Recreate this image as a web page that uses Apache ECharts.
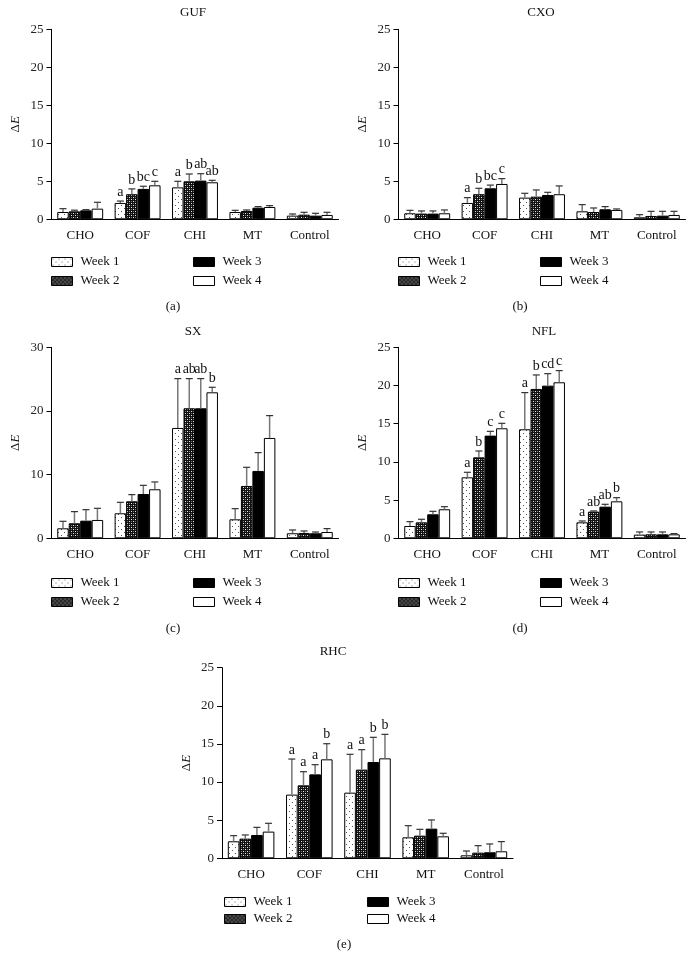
<!DOCTYPE html>
<html><head><meta charset="utf-8">
<script src="https://cdn.jsdelivr.net/npm/echarts@6/dist/echarts.min.js"></script>
<style>html,body{margin:0;padding:0;background:#fff}#c{width:694px;height:971px}</style>
</head><body><div id="c"></div>
<script>
const categories = ['CHO','COF','CHI','MT','Control'];
const weeks = ['Week 1','Week 2','Week 3','Week 4'];
const panelTitles = ['GUF','CXO','SX','NFL','RHC'];
const panelTags = ['(a)','(b)','(c)','(d)','(e)'];

// means [week][category]
const gufMean = [[0.96,2.15,4.2,0.96,0.48],[1.05,3.3,5.0,1.1,0.61],[1.18,4.0,5.09,1.53,0.48],[1.4,4.47,4.87,1.62,0.57]];
const gufSd   = [[0.44,0.25,0.8,0.22,0.22],[0.15,0.7,0.96,0.13,0.31],[0.09,0.35,0.91,0.14,0.31],[0.84,0.53,0.26,0.18,0.35]];
const gufLet  = [['','a','a','',''],['','b','b','',''],['','bc','ab','',''],['','c','ab','','']];

const cxoMean = [[0.79,2.15,2.85,1.05,0.26],[0.75,3.3,2.98,0.96,0.44],[0.75,4.08,3.2,1.32,0.48],[0.79,4.65,3.3,1.23,0.57]];
const cxoSd   = [[0.39,0.7,0.57,0.88,0.35],[0.35,0.78,0.88,0.53,0.61],[0.35,0.42,0.35,0.35,0.57],[0.44,0.7,1.09,0.13,0.48]];
const cxoLet  = [['','a','','',''],['','b','','',''],['','bc','','',''],['','c','','','']];

const sxMean = [[1.57,3.93,17.33,2.98,0.79],[2.36,5.81,20.42,8.22,0.84],[2.77,6.96,20.42,10.58,0.79],[2.88,7.7,22.93,15.76,0.99]];
const sxSd   = [[1.1,1.72,7.75,1.68,0.52],[1.83,1.05,4.66,2.93,0.31],[1.73,1.36,4.66,2.88,0.2],[1.83,1.15,0.79,3.51,0.53]];
const sxLet  = [['','','a','',''],['','','ab','',''],['','','ab','',''],['','','b','','']];

const nflMean = [[1.61,7.98,14.27,2.09,0.48],[2.09,10.6,19.55,3.49,0.52],[3.14,13.44,19.98,4.14,0.52],[3.8,14.4,20.42,4.84,0.52]];
const nflSd   = [[0.57,0.66,4.8,0.18,0.35],[0.4,0.83,1.83,0.09,0.31],[0.39,0.56,1.57,0.31,0.31],[0.34,0.65,1.53,0.48,0.09]];
const nflLet  = [['','a','a','a',''],['','b','b','ab',''],['','c','cd','ab',''],['','c','c','b','']];

const rhcMean = [[2.23,8.35,8.61,2.75,0.39],[2.58,9.57,11.63,2.97,0.74],[3.06,11.01,12.63,3.89,0.79],[3.5,12.98,13.11,2.88,0.92]];
const rhcSd   = [[0.74,4.67,5.03,1.53,0.57],[0.48,1.79,2.62,0.83,0.92],[1.0,1.27,3.24,1.14,1.09],[1.09,2.05,3.15,0.4,1.27]];
const rhcLet  = [['','a','a','',''],['','a','a','',''],['','a','b','',''],['','b','b','','']];

const yMax = [25,25,30,25,25];
const yStep = [5,5,10,5,5];

const panels = [
  {mean:gufMean, sd:gufSd, let:gufLet},
  {mean:cxoMean, sd:cxoSd, let:cxoLet},
  {mean:sxMean, sd:sxSd, let:sxLet},
  {mean:nflMean, sd:nflSd, let:nflLet},
  {mean:rhcMean, sd:rhcSd, let:rhcLet}
];

// layout (pixels)
const grids = [
  {left:51.5, top:29.3, width:287, height:190},
  {left:398.5, top:29.3, width:287, height:190},
  {left:51.5, top:347.3, width:287, height:191},
  {left:398.5, top:347.3, width:287, height:191},
  {left:222, top:667.7, width:291, height:190.6}
];
const titlePos = [[193,13],[541,13],[193,332],[544,332],[333,652]];
const tagPos = [[173,307],[520,307],[173,629],[520,629],[344,945]];
const legendPos = [
  {c1:51, c2:193, r1:262, r2:281},
  {c1:398, c2:540, r1:262, r2:281},
  {c1:51, c2:193, r1:583, r2:602},
  {c1:398, c2:540, r1:583, r2:602},
  {c1:224, c2:367, r1:902, r2:919}
];

const FONT = 'Liberation Serif';
const GAP = 0.2;

function makePattern(kind){
  const c = document.createElement('canvas');
  const ctx = c.getContext('2d');
  if(kind===0){
    c.width=6;c.height=6;
    ctx.fillStyle='#fff';ctx.fillRect(0,0,6,6);
    ctx.fillStyle='#555';
    ctx.fillRect(1,1,1,1);ctx.fillRect(4,4,1,1);
  } else if(kind===1){
    c.width=4;c.height=4;
    ctx.fillStyle='#111';ctx.fillRect(0,0,4,4);
    ctx.fillStyle='#e8e8e8';
    ctx.fillRect(1,1,1,1);ctx.fillRect(3,3,1,1);
    ctx.fillStyle='#777';
    ctx.fillRect(3,1,1,1);ctx.fillRect(1,3,1,1);
  }
  return {image:c, repeat:'repeat'};
}
const fills = [makePattern(0), makePattern(1), '#000', '#fff'];

const option = {
  animation:false,
  backgroundColor:'#fff',
  textStyle:{fontFamily:FONT},
  grid:[], xAxis:[], yAxis:[], series:[], legend:[], graphic:[]
};

panels.forEach((p,pi)=>{
  option.grid.push(Object.assign({containLabel:false}, grids[pi]));
  option.xAxis.push({
    type:'category', gridIndex:pi, data:categories,
    axisLine:{lineStyle:{color:'#000',width:1}},
    axisTick:{alignWithLabel:true,length:5,lineStyle:{color:'#000'}},
    axisLabel:{color:'#111',fontSize:13,fontFamily:FONT,margin:10},
    splitLine:{show:false}
  });
  option.yAxis.push({
    type:'value', gridIndex:pi, min:0, max:yMax[pi], interval:yStep[pi],
    axisLine:{show:true,lineStyle:{color:'#000',width:1}},
    axisTick:{show:true,length:5,lineStyle:{color:'#000'}},
    axisLabel:{color:'#222',fontSize:13,fontFamily:FONT,margin:8},
    splitLine:{show:false},
    name:'{d|Δ}{e|E}', nameLocation:'middle', nameGap:29, nameRotate:90,
    nameTextStyle:{rich:{d:{fontFamily:FONT,fontSize:13,color:'#111'},e:{fontFamily:FONT,fontSize:13,fontStyle:'italic',color:'#111'}}}
  });
  weeks.forEach((w,wi)=>{
    option.series.push({
      type:'bar', name:w, xAxisIndex:pi, yAxisIndex:pi,
      data:p.mean[wi], barGap:'0%', barCategoryGap:(GAP*100)+'%',
      itemStyle:{color:fills[wi], borderColor:'#000', borderWidth:1},
      z:2
    });
  });
  weeks.forEach((w,wi)=>{
    const d = categories.map((c,ci)=>[ci, p.mean[wi][ci], p.mean[wi][ci]+p.sd[wi][ci]]);
    option.series.push({
      type:'custom', name:'err'+pi+'_'+wi, xAxisIndex:pi, yAxisIndex:pi, z:5,
      data:d,
      renderItem:function(params, api){
        const ci = api.value(0);
        const m = api.value(1), top = api.value(2);
        const letter = p.let[wi][ci];
        const band = api.size([1,0])[0];
        const gw = band*(1-GAP);
        const bw = gw/4;
        const cx = api.coord([ci,0])[0] - gw/2 + bw*(wi+0.5);
        const y0 = api.coord([ci,m])[1];
        const y1 = api.coord([ci,top])[1];
        const ch = [
          {type:'line', shape:{x1:cx,y1:y0,x2:cx,y2:y1}, style:{stroke:'#777',lineWidth:1.5}},
          {type:'line', shape:{x1:cx-3.5,y1:y1,x2:cx+3.5,y2:y1}, style:{stroke:'#333',lineWidth:1.2}}
        ];
        if(letter){
          ch.push({type:'text', style:{text:letter, x:cx, y:y1-2, align:'center', verticalAlign:'bottom', fontFamily:FONT, fontSize:14, fill:'#111'}});
        }
        return {type:'group', children:ch};
      }
    });
  });
  option.graphic.push({type:'text', x:titlePos[pi][0], y:titlePos[pi][1], style:{text:panelTitles[pi], x:0, y:0, fontFamily:FONT, fontSize:13, fill:'#111', align:'center', verticalAlign:'middle'}});
  option.graphic.push({type:'text', x:tagPos[pi][0], y:tagPos[pi][1], style:{text:panelTags[pi], x:0, y:0, fontFamily:FONT, fontSize:13, fill:'#111', align:'center', verticalAlign:'middle'}});
  const L = legendPos[pi];
  const cells = [[L.c1,L.r1],[L.c1,L.r2],[L.c2,L.r1],[L.c2,L.r2]];
  weeks.forEach((w,wi)=>{
    option.legend.push({
      data:[{name:w, icon:'rect'}], left:cells[wi][0], top:cells[wi][1]-7, padding:0,
      itemWidth:21, itemHeight:9, selectedMode:false,
      itemStyle:{borderColor:'#000',borderWidth:1},
      textStyle:{fontFamily:FONT, fontSize:13, color:'#111', lineHeight:14, padding:[0,0,0,3]}
    });
  });
});

const chart = echarts.init(document.getElementById('c'), null, {renderer:'canvas'});
chart.setOption(option);
</script></body></html>
